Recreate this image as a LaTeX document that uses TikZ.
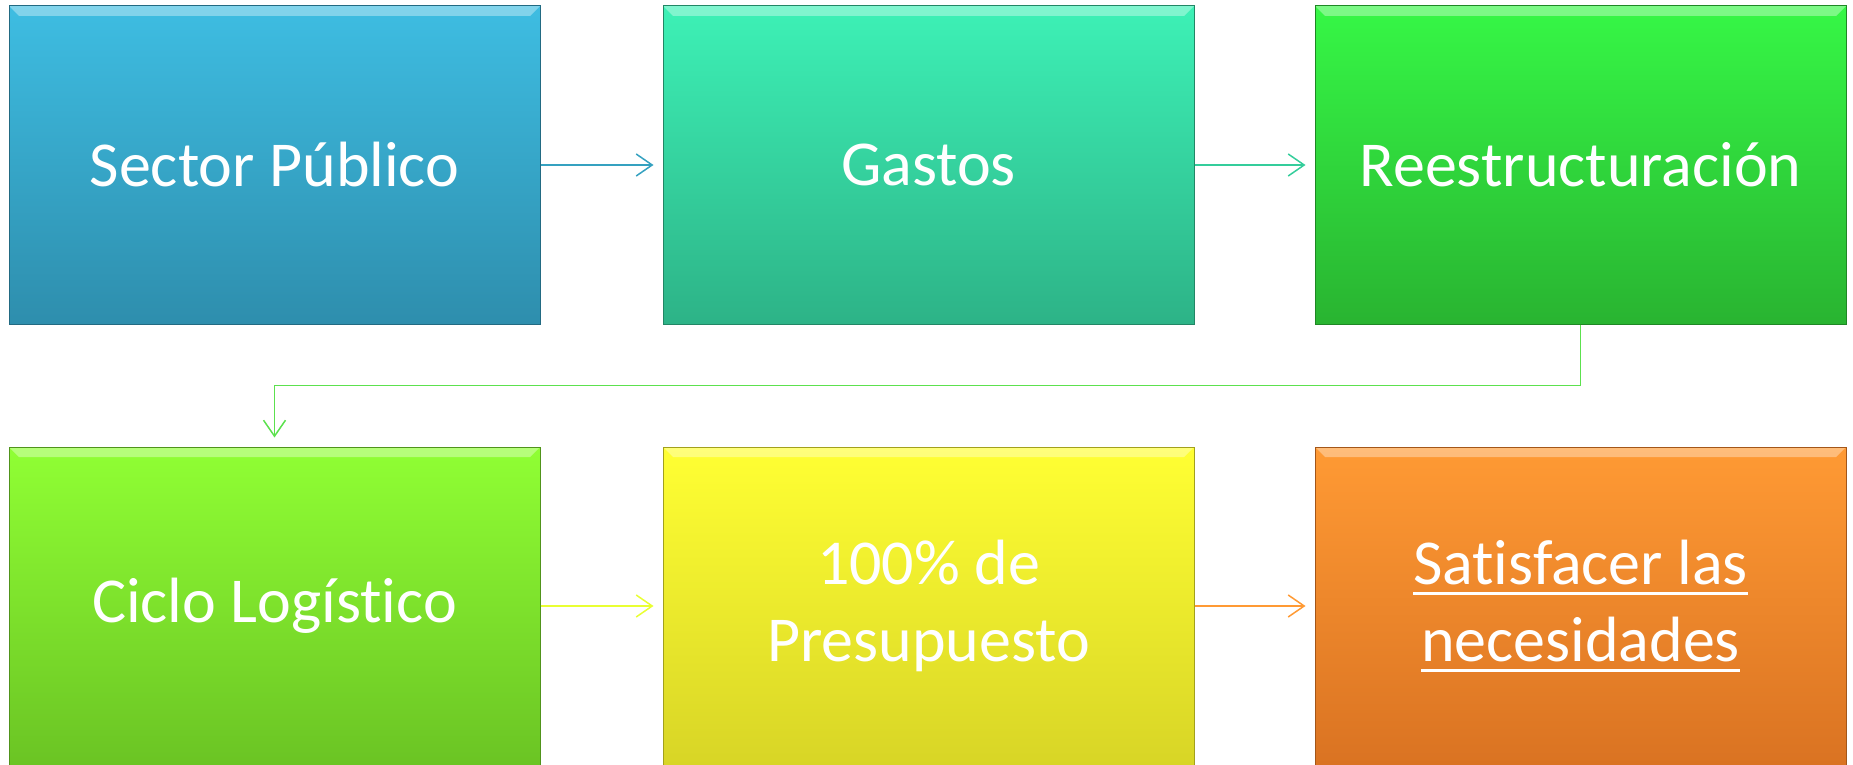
\documentclass[tikz,border=0pt]{standalone}
\usepackage{fontspec}
\setmainfont{Carlito}[Ligatures=NoCommon]
\usetikzlibrary{arrows.meta}

\definecolor{azulA}{HTML}{3EBDE2}
\definecolor{azulB}{HTML}{2E8EAD}
\definecolor{turqA}{HTML}{3DF1B6}
\definecolor{turqB}{HTML}{2DB387}
\definecolor{verdeA}{HTML}{36F746}
\definecolor{verdeB}{HTML}{29B431}
\definecolor{limaA}{HTML}{90FF34}
\definecolor{limaB}{HTML}{6BC424}
\definecolor{amarA}{HTML}{FFFF33}
\definecolor{amarB}{HTML}{D8D526}
\definecolor{naraA}{HTML}{FF9A34}
\definecolor{naraB}{HTML}{DA7322}
\definecolor{lineaV}{HTML}{5CE14E}

% subrayado grueso, como en la diapositiva
\newcommand{\subraya}[1]{\setbox0\hbox{#1}\rlap{\rule[-0.17em]{\wd0}{0.055em}}\box0}

\tikzset{
  paso/.style 2 args={draw=#2!75!black, line width=1pt, top color=#1, bottom color=#2,
    minimum width=531pt, minimum height=318pt, text=white, align=center,
    font=\fontsize{64}{77}\selectfont,
    path picture={\fill[white,opacity=.35] (path picture bounding box.north west)
      -- (path picture bounding box.north east)
      -- ([xshift=-10pt,yshift=-10pt]path picture bounding box.north east)
      -- ([xshift=10pt,yshift=-10pt]path picture bounding box.north west) -- cycle;}},
  flecha/.style={draw=#1, line width=1.5pt, shorten >=9pt,
    -{Straight Barb[length=16pt,width=22pt]}}
}

\begin{document}
\begin{tikzpicture}[x=1pt,y=1pt]\tikzstyle{every node}+=[inner sep=0pt]
	  \useasboundingbox (0,0) rectangle (1853,-765);
	  \node [paso={azulA}{azulB}] (sector) at (274.5,-165) {Sector Público};
	  \node [paso={turqA}{turqB}] (gastos) at (928.5,-165) {Gastos};
	  \node [paso={verdeA}{verdeB}] (reest) at (1580.5,-165) {Reestructuración};
	  \node [paso={limaA}{limaB}] (ciclo) at (274.5,-606) {Ciclo Logístico};
	  \node [paso={amarA}{amarB}] (presup) at (928.5,-606) {100\% de\\Presupuesto};
	  \node [paso={naraA}{naraB}] (satis) at (1580.5,-606) {\subraya{Satisfacer las}\\\subraya{necesidades}};
	  \draw [flecha=azulA!85!black] (sector) -- (gastos);
	  \draw [flecha=turqA!85!black] (gastos) -- (reest);
	  \draw [flecha=lineaV] (reest.south) -- ++(0,-61) -| (ciclo.north);
	  \draw [flecha=amarA!80!limaA] (ciclo) -- (presup);
	  \draw [flecha=naraA] (presup) -- (satis);
	\end{tikzpicture}
\end{document}
